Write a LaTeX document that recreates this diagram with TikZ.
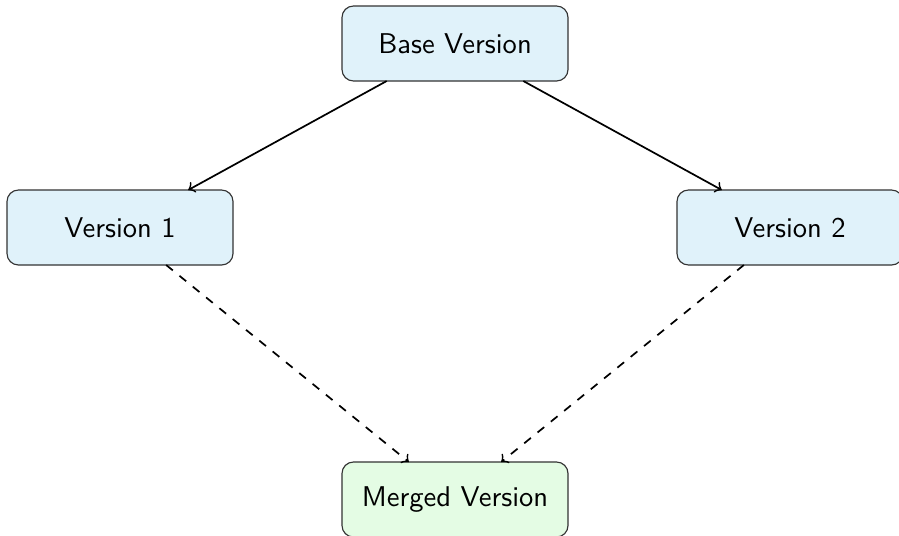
\documentclass[tikz,border=0pt]{standalone}
\usepackage{fontspec}
\begin{document}
\begin{tikzpicture}[x=1pt,y=1pt,
  font=\sffamily,
  version/.style={draw=black!80, line width=0.4pt, rounded corners=4pt,
    minimum width=79.1pt, minimum height=26.25pt, inner sep=0pt, outer sep=0pt},
  branch/.style={version, fill=basefill},
  merged/.style={version, fill=mergefill},
  flow/.style={->, line width=0.6pt, black},
  merge/.style={->, line width=0.6pt, black, dash pattern=on 3pt off 3pt}]
\definecolor{basefill}{HTML}{E0F2FA}
\definecolor{mergefill}{HTML}{E4FCE4}
\useasboundingbox (0,0) rectangle (314.65,-187.25);
\clip (0,0) rectangle (314.65,-187.25);

\node[branch] (base) at (159.25,-15.225) {Base Version};
\node[branch] (v1) at (42,-79.625) {Version 1};
\node[branch] (v2) at (276.5,-79.625) {Version 2};
\node[merged] (mv) at (159.25,-174.825) {Merged Version};

\draw[flow] (base) -- (v1);
\draw[flow] (base) -- (v2);
\draw[merge] (v1) -- (mv);
\draw[merge] (v2) -- (mv);
\end{tikzpicture}
\end{document}
